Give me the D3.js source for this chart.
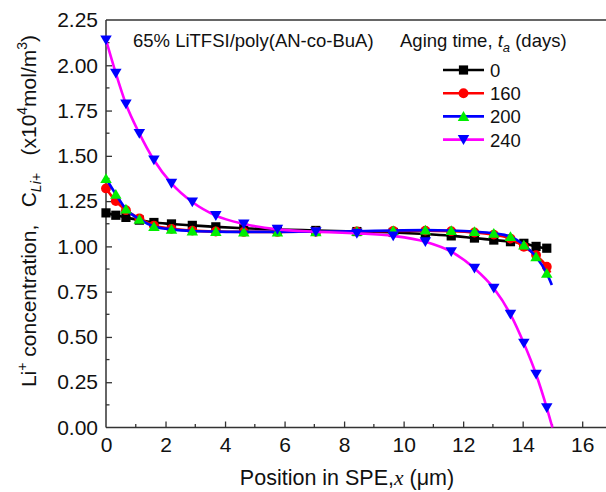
<!DOCTYPE html>
<html>
<head>
<meta charset="utf-8">
<script src="https://cdn.jsdelivr.net/npm/d3@7"></script>
<style>
  body { margin: 0; background: #fff; }
  svg { font-family: Arial, "Liberation Sans", sans-serif; }
</style>
</head>
<body>
<svg id="chart" width="606" height="492"></svg>
<script>
// marker positions (um), shared by all series
var positions = [0, 0.33, 0.67, 1.12, 1.61, 2.2, 2.9, 3.69, 4.63, 5.76, 7.05, 8.43, 9.65, 10.73, 11.6, 12.38, 13.03, 13.59, 14.04, 14.45, 14.81];

var aging0   = [1.185, 1.172, 1.16, 1.145, 1.132, 1.124, 1.116, 1.108, 1.1, 1.093, 1.088, 1.082, 1.077, 1.068, 1.058, 1.046, 1.035, 1.026, 1.017, 1.0, 0.99];
var aging160 = [1.32, 1.25, 1.2, 1.155, 1.115, 1.097, 1.087, 1.082, 1.08, 1.08, 1.081, 1.082, 1.085, 1.087, 1.084, 1.077, 1.065, 1.043, 0.998, 0.952, 0.888];
var aging200 = [1.375, 1.288, 1.206, 1.15, 1.11, 1.094, 1.085, 1.082, 1.08, 1.08, 1.081, 1.083, 1.088, 1.09, 1.088, 1.082, 1.072, 1.054, 1.008, 0.943, 0.851];
var aging240 = [2.14, 1.956, 1.786, 1.624, 1.477, 1.348, 1.245, 1.17, 1.124, 1.094, 1.081, 1.072, 1.058, 1.026, 0.971, 0.879, 0.769, 0.625, 0.465, 0.294, 0.109];

// where each fitted curve stops on the right
var curveEnds = [[14.84, 0.99], [14.93, 0.855], [14.98, 0.787], [15.0, 0.0]];

var seriesNames = ['0', '160', '200', '240'];
var lineColors = ['#000000', '#ff0000', '#0000ff', '#ff00ff'];
var markerColors = ['#000000', '#ff0000', '#00ee00', '#0000ff'];
var markerShapes = ['square', 'circle', 'up', 'down'];

var xTicks = [0, 2, 4, 6, 8, 10, 12, 14, 16];
var yTicks = [0, 0.25, 0.5, 0.75, 1.0, 1.25, 1.5, 1.75, 2.0, 2.25];

var margin = { left: 106, top: 20, right: 0, bottom: 64 },
    W = 606, H = 492,
    svg = d3.select('#chart');

var x = d3.scaleLinear().domain([0, 16.8]).range([margin.left, W]);
var y = d3.scaleLinear().domain([0, 2.25]).range([427.5, margin.top]);

var axisColor = '#333';

// frame: left and top (right side falls outside the picture)
svg.append('line')
    .attr('x1', x(0)).attr('x2', W)
    .attr('y1', y(2.25)).attr('y2', y(2.25))
    .attr('stroke', axisColor).attr('stroke-width', 1.5);

// bottom axis, ticks inside
var xAxis = d3.axisBottom(x).tickValues(xTicks).tickSize(-6).tickPadding(10).tickFormat(d3.format('d'));
var gx = svg.append('g')
    .attr('transform', 'translate(0,' + y(0) + ')')
    .call(xAxis);
gx.selectAll('.tick')
    .filter(function(d) { return d === 0; })
    .select('line').remove();
gx.selectAll('.minor').data(xTicks.slice(0, -1).map(function(d) { return d + 1; }))
    .enter().append('line')
    .attr('class', 'minor')
    .attr('x1', function(d) { return x(d); }).attr('x2', function(d) { return x(d); })
    .attr('y1', 0).attr('y2', -3.5)
    .attr('stroke', axisColor).attr('stroke-width', 1.3);

// left axis, ticks inside
var yAxis = d3.axisLeft(y).tickValues(yTicks).tickSize(-6).tickPadding(8).tickFormat(d3.format('.2f'));
var gy = svg.append('g')
    .attr('transform', 'translate(' + x(0) + ',0)')
    .call(yAxis);
gy.selectAll('.tick')
    .filter(function(d) { return d === 0 || d === 2.25; })
    .select('line').remove();
gy.selectAll('.minor').data(yTicks.slice(0, -1).map(function(d) { return d + 0.125; }))
    .enter().append('line')
    .attr('class', 'minor')
    .attr('x1', 0).attr('x2', 3.5)
    .attr('y1', function(d) { return y(d); }).attr('y2', function(d) { return y(d); })
    .attr('stroke', axisColor).attr('stroke-width', 1.3);

[gx, gy].forEach(function(g) {
    g.select('.domain').attr('stroke', axisColor).attr('stroke-width', 1.5);
    g.selectAll('.tick line').attr('stroke', axisColor).attr('stroke-width', 1.3);
    g.selectAll('.tick text')
        .attr('fill', '#111')
        .style('font-size', '21px')
        .style('font-family', 'Arial, "Liberation Sans", sans-serif');
});
gx.select('.domain').attr('d', 'M' + x(0) + ',0H' + W);
gy.select('.domain').attr('d', 'M0,' + y(0) + 'V' + y(2.25));

// series
var allSeries = [aging0, aging160, aging200, aging240].map(function(vals, i) {
    return {
        name: seriesNames[i],
        points: positions.map(function(p, j) { return [p, vals[j]]; }),
        end: curveEnds[i],
        lineColor: lineColors[i],
        markerColor: markerColors[i],
        shape: markerShapes[i]
    };
});

var line = d3.line()
    .x(function(d) { return x(d[0]); })
    .y(function(d) { return y(d[1]); })
    .curve(d3.curveMonotoneX);

function symbolPath(shape, s) {
    if (shape === 'square') return 'M' + (-s) + ',' + (-s) + 'h' + 2 * s + 'v' + 2 * s + 'h' + (-2 * s) + 'Z';
    if (shape === 'circle') return d3.symbol(d3.symbolCircle, Math.PI * s * s * 1.15)();
    var h = s * 1.15;
    if (shape === 'up') return 'M0,' + (-h) + 'L' + (s * 1.25) + ',' + h * 0.85 + 'L' + (-s * 1.25) + ',' + h * 0.85 + 'Z';
    return 'M0,' + h + 'L' + (s * 1.25) + ',' + (-h * 0.85) + 'L' + (-s * 1.25) + ',' + (-h * 0.85) + 'Z';
}

var plot = svg.append('g');
allSeries.forEach(function(s) {
    var pts = s.points.concat(s.end[0] > s.points[s.points.length - 1][0] ? [s.end] : []);
    plot.append('path')
        .attr('d', line(pts))
        .attr('fill', 'none')
        .attr('stroke', s.lineColor)
        .attr('stroke-width', 2.6);
    plot.selectAll(null).data(s.points)
        .enter().append('path')
        .attr('transform', function(d) { return 'translate(' + x(d[0]) + ',' + y(d[1]) + ')'; })
        .attr('d', symbolPath(s.shape, 4.6))
        .attr('fill', s.markerColor);
});

// annotation
svg.append('text')
    .attr('x', 133).attr('y', 47)
    .style('font-size', '18.5px')
    .attr('fill', '#111')
    .text('65% LiTFSI/poly(AN-co-BuA)');

// legend
var legendTitle = svg.append('text')
    .attr('x', 400).attr('y', 47)
    .style('font-size', '18.5px')
    .attr('fill', '#111');
legendTitle.append('tspan').text('Aging time, ');
legendTitle.append('tspan').style('font-style', 'italic').text('t');
legendTitle.append('tspan').attr('dy', 5).style('font-size', '13px').style('font-style', 'italic').text('a');
legendTitle.append('tspan').attr('dy', -5).text(' (days)');

var legend = svg.append('g').selectAll('g').data(allSeries)
    .enter().append('g')
    .attr('transform', function(d, i) { return 'translate(0,' + (70 + i * 23.2) + ')'; });
legend.append('line')
    .attr('x1', 443).attr('x2', 484)
    .attr('stroke', function(d) { return d.lineColor; })
    .attr('stroke-width', 2.6);
legend.append('path')
    .attr('transform', 'translate(463.5,0)')
    .attr('d', function(d) { return symbolPath(d.shape, 4.6); })
    .attr('fill', function(d) { return d.markerColor; });
legend.append('text')
    .attr('x', 490).attr('y', 7)
    .style('font-size', '18.5px')
    .attr('fill', '#111')
    .text(function(d) { return d.name; });

// axis titles
var xTitle = svg.append('text')
    .attr('x', 347).attr('y', 485)
    .attr('text-anchor', 'middle')
    .style('font-size', '21.5px')
    .attr('fill', '#111');
xTitle.append('tspan').text('Position in SPE,');
xTitle.append('tspan').style('font-family', '"Liberation Serif", serif').style('font-style', 'italic').text('x');
xTitle.append('tspan').text(' (\u03bcm)');

var yTitle = svg.append('text')
    .attr('transform', 'translate(36,211) rotate(-90)')
    .attr('text-anchor', 'middle')
    .style('font-size', '21px')
    .style('white-space', 'pre')
    .attr('fill', '#111');
yTitle.append('tspan').text('Li');
yTitle.append('tspan').attr('dy', -9).style('font-size', '14px').text('+');
yTitle.append('tspan').attr('dy', 9).text(' concentration,   C');
yTitle.append('tspan').attr('dy', 5).style('font-size', '14px').style('font-style', 'italic').text('Li+');
yTitle.append('tspan').attr('dy', -5).text('   (x10');
yTitle.append('tspan').attr('dy', -9).style('font-size', '14px').text('4');
yTitle.append('tspan').attr('dy', 9).text('mol/m');
yTitle.append('tspan').attr('dy', -9).style('font-size', '14px').text('3');
yTitle.append('tspan').attr('dy', 9).text(')');
</script>
</body>
</html>
